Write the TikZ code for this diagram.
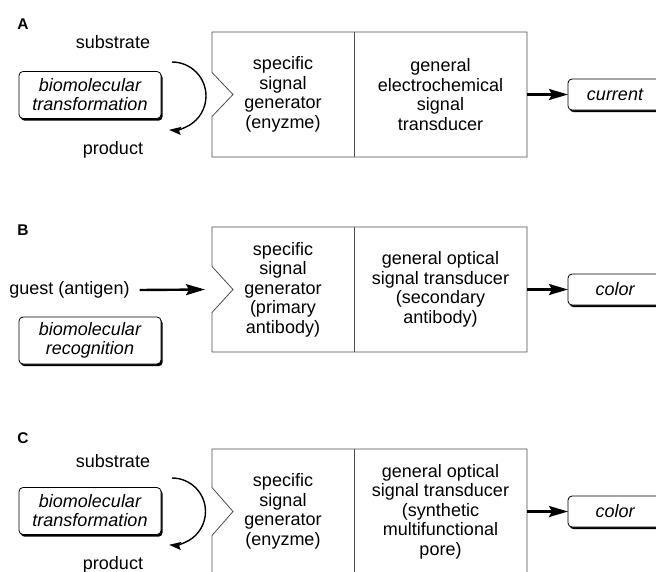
\documentclass[tikz,border=0pt]{standalone}
\usepackage{fontspec}
\setmainfont{Liberation Sans}
\usetikzlibrary{positioning,shadows,arrows.meta}

\tikzset{
  part/.style={minimum height=125pt,inner sep=0pt,outer sep=0pt,align=center,font=\fontsize{18}{19.5}\selectfont},
  gen/.style={part,minimum width=142pt},
  trans/.style={part,minimum width=173pt},
  rbox/.style={draw,rounded corners=4pt,fill=white,line width=0.8pt,align=center,inner sep=0pt,outer sep=0pt,
    font=\fontsize{18}{19}\selectfont\itshape,drop shadow={shadow xshift=1.6pt,shadow yshift=-2.2pt,opacity=1,fill=black}},
  biobox/.style={rbox,minimum width=142pt,minimum height=47pt},
  outbox/.style={rbox,minimum width=94pt,minimum height=31pt},
  outline/.style={draw=black!70,line width=0.8pt},
  label/.style={inner sep=0pt,font=\fontsize{18}{19.5}\selectfont},
  panel/.style={inner sep=0pt,font=\fontsize{15.5}{17}\selectfont\bfseries},
  arr/.style={-{Stealth[length=19pt,width=11pt,inset=3pt]},line width=2.4pt},
  turn/.style={-{Stealth[length=12pt,width=8pt,inset=2pt]},line width=1.4pt},
}

\begin{document}
\begin{tikzpicture}[x=1pt,y=-1pt]
  \useasboundingbox (0,0) rectangle (656,571);
  % A
  \node[panel] (pA) at (23,24) {A};
  \node[label] (subA) at (113,42) {substrate};
  \node[label] (prodA) at (113,150) {product};
  \node[biobox] (bioA) at (90,95) {biomolecular\\transformation};
  \node[gen] (genA) at (283,94.5) {specific\\signal\\generator\\(enyzme)};
  \node[trans,right=0pt of genA] (transA) {general\\electrochemical\\signal\\transducer};
  \node[outbox,right=41pt of transA] (outA) {current};
  \coordinate (arcA) at (172,62);
  \draw[turn] (arcA) arc[start angle=90,end angle=-95,radius=34pt];
  \draw[outline] (genA.north west) -- (transA.north east) -- (transA.south east) -- (genA.south west)
    -- ([yshift=-22pt]genA.west) -- ([xshift=21pt]genA.west) -- ([yshift=22pt]genA.west) -- cycle;
  \draw[outline] (genA.north east) -- (genA.south east);
  \draw[arr] (transA) -- (outA);

  % B
  \node[panel] (pB) at (23,230) {B};
  \node[label] (guest) at (69.5,290) {guest (antigen)};
  \node[biobox] (bioB) at (90,340.5) {biomolecular\\recognition};
  \node[gen] (genB) at (283,289.5) {specific\\signal\\generator\\(primary\\antibody)};
  \node[trans,right=0pt of genB] (transB) {general optical\\signal transducer\\(secondary\\antibody)};
  \node[outbox,right=41pt of transB] (outB) {color};
  \draw[outline] (genB.north west) -- (transB.north east) -- (transB.south east) -- (genB.south west)
    -- ([yshift=-23pt]genB.west) -- ([xshift=21pt]genB.west) -- ([yshift=23pt]genB.west) -- cycle;
  \draw[outline] (genB.north east) -- (genB.south east);
  \draw[arr] ([xshift=10pt]guest.east) -- ([xshift=-7pt]genB.west);
  \draw[arr] (transB) -- (outB);

  % C
  \node[panel] (pC) at (23,438) {C};
  \node[label] (subC) at (113,461) {substrate};
  \node[label] (prodC) at (113,565) {product};
  \node[biobox] (bioC) at (90,511) {biomolecular\\transformation};
  \node[gen] (genC) at (283,511.5) {specific\\signal\\generator\\(enyzme)};
  \node[trans,right=0pt of genC] (transC) {general optical\\signal transducer\\(synthetic\\multifunctional\\pore)};
  \node[outbox,right=41pt of transC] (outC) {color};
  \coordinate (arcC) at (172,478);
  \draw[turn] (arcC) arc[start angle=90,end angle=-95,radius=33.5pt];
  \draw[outline] (genC.north west) -- (transC.north east) -- (transC.south east) -- (genC.south west)
    -- ([yshift=-24pt]genC.west) -- ([xshift=21pt]genC.west) -- ([yshift=24pt]genC.west) -- cycle;
  \draw[outline] (genC.north east) -- (genC.south east);
  \draw[arr] (transC) -- (outC);
\end{tikzpicture}
\end{document}
